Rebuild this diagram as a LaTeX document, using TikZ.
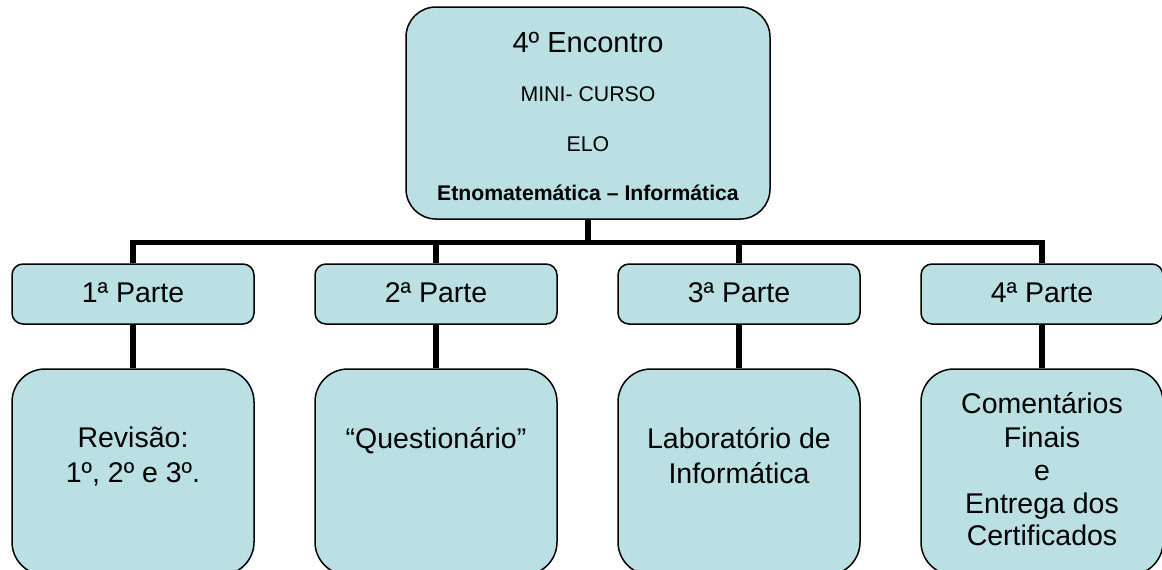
\documentclass[tikz,border=0pt]{standalone}
\usepackage{fontspec}
\setmainfont{Liberation Sans}
\definecolor{boxfill}{RGB}{186,224,228}
\begin{document}
\begin{tikzpicture}[x=1pt,y=-1pt,
  boxbase/.style={draw=black, line width=1.5pt, fill=boxfill, inner sep=0pt},
  topbox/.style={boxbase, rounded corners=30pt, minimum width=364pt, minimum height=212pt},
  partbox/.style={boxbase, rounded corners=11pt, minimum width=242pt, minimum height=60pt},
  lowbox/.style={boxbase, rounded corners=33pt, minimum width=242pt, minimum height=206pt},
  link/.style={draw=black, line width=5.5pt, line join=miter},
  bigtxt/.style={anchor=base, inner sep=0pt, font=\fontsize{28.5}{34}\selectfont},
  titletxt/.style={anchor=base, inner sep=0pt, font=\fontsize{29}{35}\selectfont},
  smalltxt/.style={anchor=base, inner sep=0pt, font=\fontsize{21.3}{26}\selectfont},
  boldtxt/.style={anchor=base, inner sep=0pt, font=\fontsize{21.2}{26}\selectfont\bfseries}]
\useasboundingbox (0,0) rectangle (1162,570);
\clip (0,0) rectangle (1162,570);

% boxes
\node[topbox] (top) at (588,113) {};
\node[partbox] (p1) at (133,294) {};
\node[partbox] (p2) at (436,294) {};
\node[partbox] (p3) at (739,294) {};
\node[partbox] (p4) at (1042,294) {};
\node[lowbox] (l1) at (133,472) {};
\node[lowbox] (l2) at (436,472) {};
\node[lowbox] (l3) at (739,472) {};
\node[lowbox] (l4) at (1042,472) {};

% connectors
\coordinate (bar) at (588,242.5);
\draw[link] (top.south) -- (bar);
\draw[link] (p1.north) |- (bar) -| (p4.north);
\draw[link] (p2.north) -- (p2.north |- bar);
\draw[link] (p3.north) -- (p3.north |- bar);
\draw[link] (p1.south) -- (l1.north);
\draw[link] (p2.south) -- (l2.north);
\draw[link] (p3.south) -- (l3.north);
\draw[link] (p4.south) -- (l4.north);

% top texts
\node[titletxt] (ta) at (588,52) {4º Encontro};
\node[smalltxt] (tb) at (588,101.5) {MINI- CURSO};
\node[smalltxt] (tc) at (588,151) {ELO};
\node[boldtxt] (td) at (588,200) {Etnomatemática – Informática};

% part texts
\node[bigtxt] (pa) at (133,302) {1ª Parte};
\node[bigtxt] (pb) at (436,302) {2ª Parte};
\node[bigtxt] (pc) at (739,302) {3ª Parte};
\node[bigtxt] (pd) at (1042,302) {4ª Parte};

% lower texts
\node[bigtxt] (la1) at (133,447) {Revisão:};
\node[bigtxt] (la2) at (133,482) {1º, 2º e 3º.};
\node[bigtxt] (lb1) at (436,448) {“Questionário”};
\node[bigtxt] (lc1) at (739,448) {Laboratório de};
\node[bigtxt] (lc2) at (739,483) {Informática};
\node[bigtxt] (ld1) at (1042,413) {Comentários};
\node[bigtxt] (ld2) at (1042,447) {Finais};
\node[bigtxt] (ld3) at (1042,480) {e};
\node[bigtxt] (ld4) at (1042,513) {Entrega dos};
\node[bigtxt] (ld5) at (1042,545) {Certificados};
\end{tikzpicture}
\end{document}
